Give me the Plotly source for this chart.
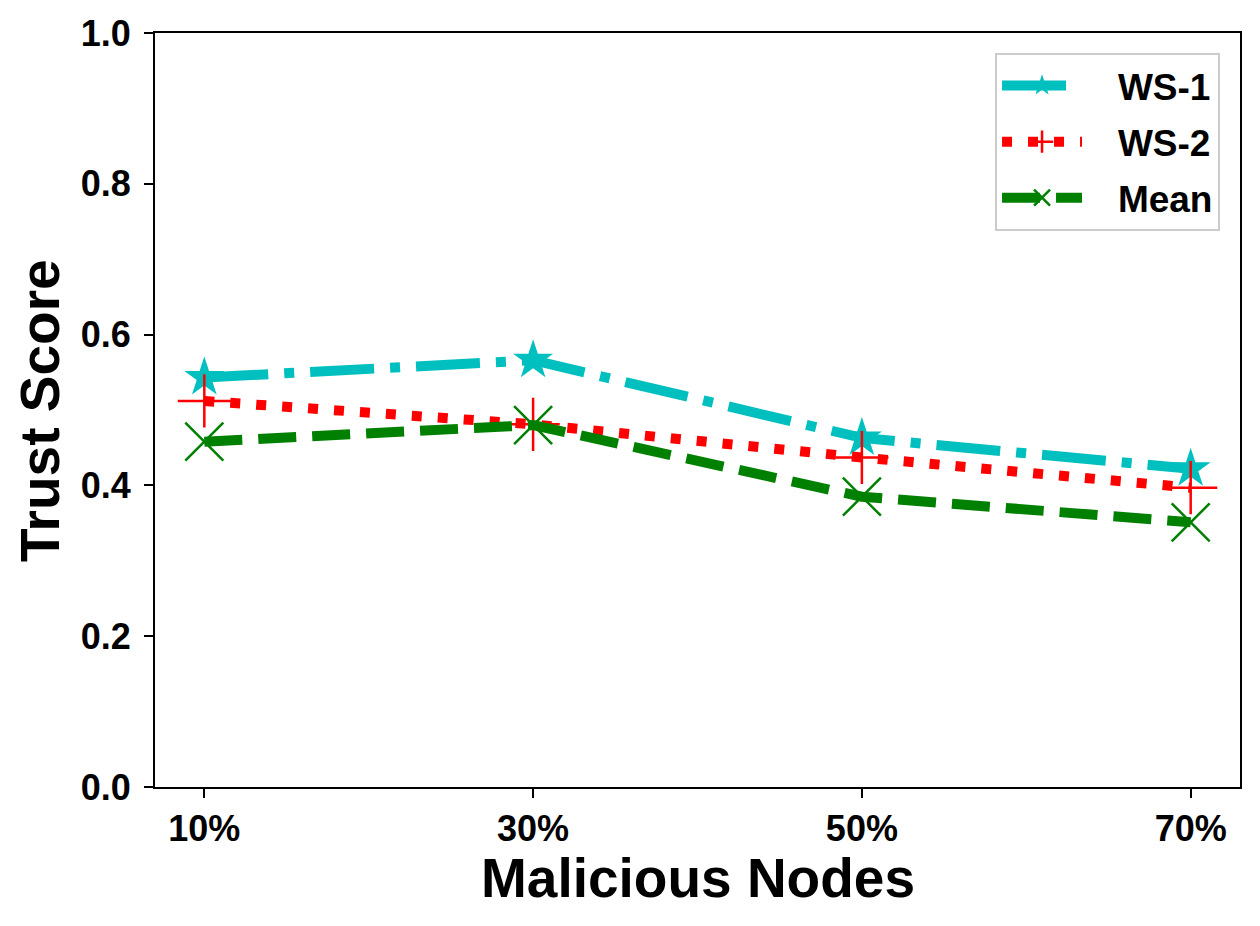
import plotly.graph_objects as go

nodes = ['10%', '30%', '50%', '70%']
ws1 = [0.543, 0.566, 0.463, 0.422]
ws2 = [0.512, 0.481, 0.437, 0.397]
mean = [0.458, 0.480, 0.385, 0.351]

font = 'Arial, Liberation Sans, sans-serif'
gap = '\u00a0' * 3

fig = go.Figure()
fig.add_trace(go.Scatter(x=nodes, y=ws1, name=gap + 'WS-1', mode='lines+markers', legendgroup='a',
                         line=dict(color='#00BFBF', width=10, dash='64px,16px,10px,16px'),
                         marker=dict(symbol='star', size=30, color='#00BFBF')))
fig.add_trace(go.Scatter(x=nodes, y=ws2, name=gap + 'WS-2', mode='lines+markers', legendgroup='b',
                         line=dict(color='#FF0000', width=10, dash='10px,16px'),
                         marker=dict(symbol='cross-thin', size=38, color='#FF0000',
                                     line=dict(color='#FF0000', width=2.5))))
fig.add_trace(go.Scatter(x=nodes, y=mean, name=gap + 'Mean', mode='lines+markers', legendgroup='c',
                         line=dict(color='#008000', width=10, dash='38px,16px'),
                         marker=dict(symbol='x-thin', size=38, color='#008000',
                                     line=dict(color='#008000', width=2.5))))

# axis titles as annotations so they sit where the reference has them
fig.add_annotation(text='Malicious Nodes', x=0.5, y=-0.1207, xref='paper', yref='paper',
                   showarrow=False, xanchor='center', yanchor='middle',
                   font=dict(size=55, weight='bold'))
fig.add_annotation(text='Trust Score', x=-0.106, y=0.5, xref='paper', yref='paper',
                   showarrow=False, xanchor='center', yanchor='middle', textangle=-90,
                   font=dict(size=55, weight='bold'))

fig.update_layout(
    width=1260, height=926,
    margin=dict(l=147, r=28, t=25, b=147),
    plot_bgcolor='white', paper_bgcolor='white',
    font=dict(family=font, color='black'),
    legend=dict(x=0.9816, y=0.9735, xanchor='right', yanchor='top',
                bgcolor='white', bordercolor='#cccccc', borderwidth=2,
                font=dict(size=37, weight='bold'), itemwidth=80,
                tracegroupgap=5),
)
fig.update_xaxes(
    type='category', range=[-0.15, 3.15], automargin=False,
    showline=True, linecolor='black', linewidth=2, mirror=True,
    ticks='outside', ticklen=9, tickwidth=2, tickcolor='black',
    showgrid=False, zeroline=False,
    tickfont=dict(size=36, weight='bold'),
)
fig.update_yaxes(
    range=[0, 1], dtick=0.2, tickformat='.1f', automargin=False,
    showline=True, linecolor='black', linewidth=2, mirror=True,
    ticks='outside', ticklen=9, tickwidth=2, tickcolor='black',
    ticklabelstandoff=6,
    showgrid=False, zeroline=False,
    tickfont=dict(size=36, weight='bold'),
)

fig.write_html('out.html')
